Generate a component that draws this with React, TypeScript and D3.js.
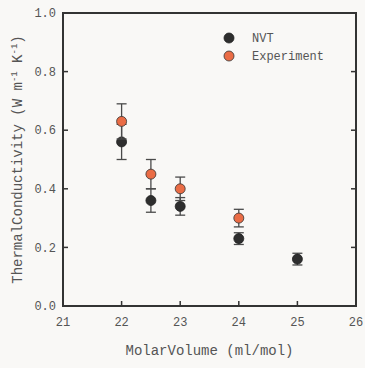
import React from "react";
import * as d3 from "d3";

const xValuesNVT = [22, 22.5, 23, 24, 25];
const nvtValues = [0.56, 0.36, 0.34, 0.23, 0.16];
const nvtErrors = [0.06, 0.04, 0.03, 0.02, 0.02];
const xValuesExp = [22, 22.5, 23, 24];
const expValues = [0.63, 0.45, 0.40, 0.30];
const expErrors = [0.06, 0.05, 0.04, 0.03];
const xTicks = [21, 22, 23, 24, 25, 26];
const yTicks = [0, 0.2, 0.4, 0.6, 0.8, 1.0];
const seriesNames = ["NVT", "Experiment"];

const W = 365, H = 368;
const M = { left: 63, right: 356, top: 13, bottom: 306 };
const FONT = "'Liberation Mono', 'Courier New', monospace";
const TEXT = "#555";
const AXIS = "#333";
const NVT_COLOR = "#2e2e2e";
const EXP_COLOR = "#ea6c45";

export default function App() {
  const x = d3.scaleLinear().domain([21, 26]).range([M.left, M.right]);
  const y = d3.scaleLinear().domain([0, 1]).range([M.bottom, M.top]);
  const cap = 5;
  const r = 5;

  const errBars = (xs: number[], vs: number[], es: number[], key: string) =>
    xs.map((xv, i) => {
      const cx = x(xv);
      const y1 = y(vs[i] + es[i]);
      const y2 = y(vs[i] - es[i]);
      return (
        <g key={key + i} stroke="#4a4a4a" strokeWidth={1.3}>
          <line x1={cx} x2={cx} y1={y1} y2={y2} />
          <line x1={cx - cap} x2={cx + cap} y1={y1} y2={y1} />
          <line x1={cx - cap} x2={cx + cap} y1={y2} y2={y2} />
        </g>
      );
    });

  return (
    <svg width={W} height={H} style={{ position: "absolute", left: 0, top: 0, background: "#f9f8f6" }}>
      <rect x={0} y={0} width={W} height={H} fill="#f9f8f6" />
      {/* ticks */}
      {xTicks.map((t) => (
        <g key={"xt" + t}>
          <line x1={x(t)} x2={x(t)} y1={M.bottom} y2={M.bottom - 5} stroke={AXIS} strokeWidth={1.5} />
          <text x={x(t)} y={M.bottom + 20} textAnchor="middle" fontFamily={FONT} fontSize={12} fill={TEXT}>
            {t}
          </text>
        </g>
      ))}
      {yTicks.map((t) => (
        <g key={"yt" + t}>
          <line x1={M.left} x2={M.left + 5} y1={y(t)} y2={y(t)} stroke={AXIS} strokeWidth={1.5} />
          <line x1={M.right} x2={M.right - 5} y1={y(t)} y2={y(t)} stroke={AXIS} strokeWidth={1.5} />
          <text x={M.left - 7} y={y(t)} dy="0.35em" textAnchor="end" fontFamily={FONT} fontSize={12} fill={TEXT}>
            {t.toFixed(1)}
          </text>
        </g>
      ))}
      <rect x={M.left} y={M.top} width={M.right - M.left} height={M.bottom - M.top} fill="none" stroke={AXIS} strokeWidth={2} />

      {/* data */}
      {errBars(xValuesNVT, nvtValues, nvtErrors, "ne")}
      {xValuesNVT.map((xv, i) => (
        <circle key={"n" + i} cx={x(xv)} cy={y(nvtValues[i])} r={r} fill={NVT_COLOR} stroke="#222" strokeWidth={0.8} />
      ))}
      {errBars(xValuesExp, expValues, expErrors, "ee")}
      {xValuesExp.map((xv, i) => (
        <circle key={"e" + i} cx={x(xv)} cy={y(expValues[i])} r={r} fill={EXP_COLOR} stroke="#333" strokeWidth={0.8} />
      ))}

      {/* legend */}
      <circle cx={229} cy={38} r={r} fill={NVT_COLOR} stroke="#222" strokeWidth={0.8} />
      <text x={252} y={38} dy="0.35em" fontFamily={FONT} fontSize={12} fill={TEXT}>{seriesNames[0]}</text>
      <circle cx={229} cy={56} r={r} fill={EXP_COLOR} stroke="#333" strokeWidth={0.8} />
      <text x={252} y={56} dy="0.35em" fontFamily={FONT} fontSize={12} fill={TEXT}>{seriesNames[1]}</text>

      {/* axis titles */}
      <text x={(M.left + M.right) / 2} y={355} textAnchor="middle" fontFamily={FONT} fontSize={14} fill={TEXT}>
        MolarVolume (ml/mol)
      </text>
      <text
        transform={`translate(22, ${(M.top + M.bottom) / 2}) rotate(-90)`}
        textAnchor="middle"
        fontFamily={FONT}
        fontSize={14}
        fill={TEXT}
      >
        ThermalConductivity (W m
        <tspan dy={-5} fontSize={9}>-1</tspan>
        <tspan dy={5}> K</tspan>
        <tspan dy={-5} fontSize={9}>-1</tspan>
        <tspan dy={5}>)</tspan>
      </text>
    </svg>
  );
}
